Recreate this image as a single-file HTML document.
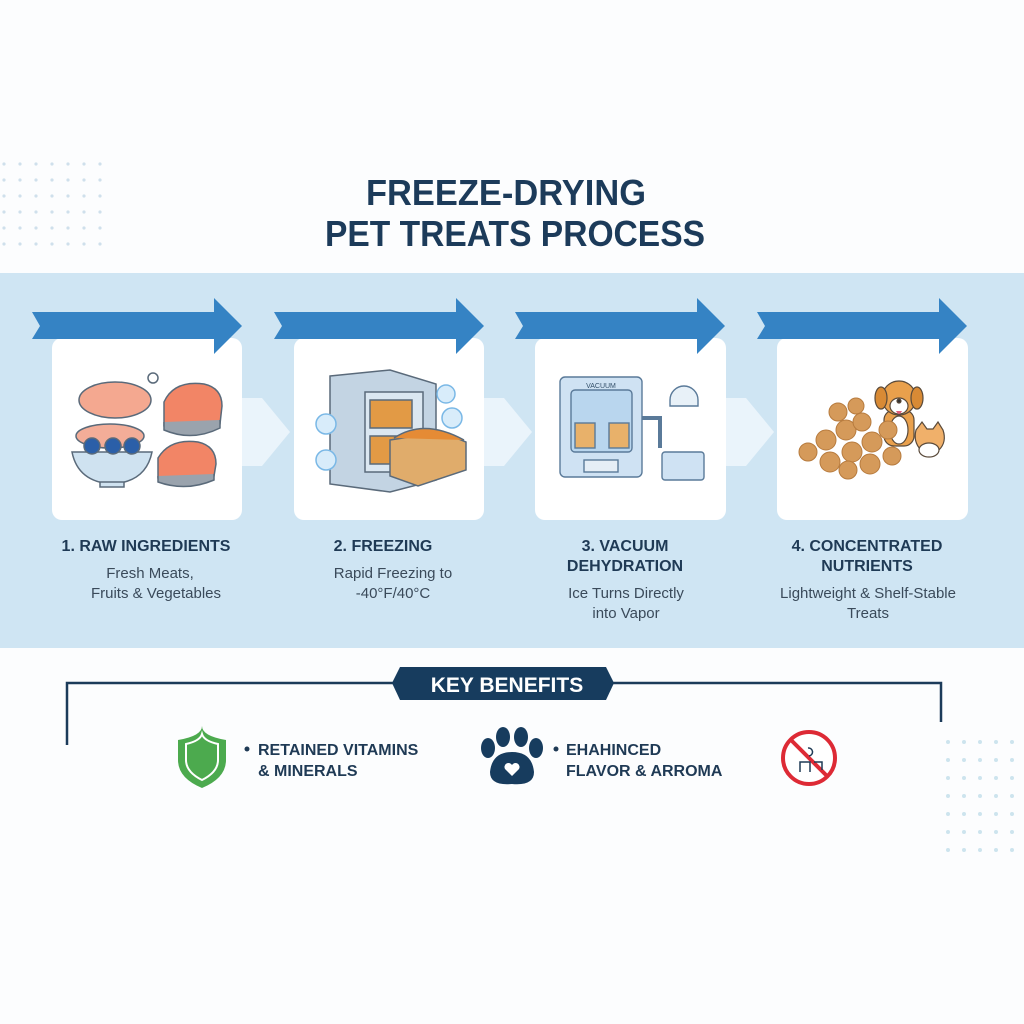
<!DOCTYPE html>
<html><head><meta charset="utf-8"><style>
html,body{margin:0;padding:0;background:#fdfdfd;}
svg{display:block}
text{font-family:"Liberation Sans","DejaVu Sans",sans-serif}
</style></head><body>
<svg width="1024" height="1024" viewBox="0 0 1024 1024" xmlns="http://www.w3.org/2000/svg">
<rect width="1024" height="1024" fill="#fcfdfe"/>
<defs>
<pattern id="dots" width="16" height="16" patternUnits="userSpaceOnUse"><circle cx="4" cy="4" r="1.6" fill="#cfe0ec"/></pattern>
<pattern id="dots2" width="16" height="18" patternUnits="userSpaceOnUse"><circle cx="4" cy="4" r="2" fill="#cde4ee"/></pattern>
</defs>
<rect x="2" y="152" width="100" height="96" fill="url(#dots)"/>
<rect x="936" y="740" width="88" height="124" fill="url(#dots2)"/>

<text x="506" y="205" text-anchor="middle" font-size="36" font-weight="bold" fill="#1c3b5a" textLength="280" lengthAdjust="spacingAndGlyphs">FREEZE-DRYING</text>
<text x="515" y="246" text-anchor="middle" font-size="36" font-weight="bold" fill="#1c3b5a" textLength="380" lengthAdjust="spacingAndGlyphs">PET TREATS PROCESS</text>

<rect x="0" y="273" width="1024" height="375" fill="#cfe5f3"/>

<g fill="#eaf4fb">
<polygon points="242,398 262,398 290,432 262,466 242,466"/>
<polygon points="484,398 504,398 532,432 504,466 484,466"/>
<polygon points="726,398 746,398 774,432 746,466 726,466"/>
</g>
<g fill="#ffffff">
<rect x="52" y="338" width="190" height="182" rx="10"/>
<rect x="294" y="338" width="190" height="182" rx="10"/>
<rect x="535" y="338" width="191" height="182" rx="10"/>
<rect x="777" y="338" width="191" height="182" rx="10"/>
</g>
<g fill="#3583c4">
<polygon points="32,312 214,312 214,298 242,326 214,354 214,339 32,339 40,326"/>
<polygon points="274,312 456,312 456,298 484,326 456,354 456,339 274,339 282,326"/>
<polygon points="515,312 697,312 697,298 725,326 697,354 697,339 515,339 523,326"/>
<polygon points="757,312 939,312 939,298 967,326 939,354 939,339 757,339 765,326"/>
</g>

<g stroke="#5a6a7a" stroke-width="1.5">
<ellipse cx="115" cy="400" rx="36" ry="18" fill="#f4a890"/>
<circle cx="153" cy="378" r="5" fill="#fff"/>
<path d="M164,402 q10,-22 40,-18 q18,4 18,22 l-2,18 q-30,10 -56,2z" fill="#f28566"/>
<path d="M164,422 l0,8 q28,12 56,-2 l0,-8" fill="#9aa3ad"/>
<ellipse cx="110" cy="436" rx="34" ry="12" fill="#f3ad98"/>
<path d="M72,452 h80 q-6,30 -40,32 q-34,-2 -40,-32z" fill="#cfe2f0"/>
<rect x="100" y="482" width="24" height="5" fill="#cfe2f0"/>
<circle cx="92" cy="446" r="8" fill="#2b5fa8"/>
<circle cx="113" cy="446" r="8" fill="#2b5fa8"/>
<circle cx="132" cy="446" r="8" fill="#2b5fa8"/>
<path d="M158,458 q12,-20 40,-16 q18,4 18,22 l-2,12 q-30,10 -56,2z" fill="#f28566"/>
<path d="M158,476 l0,6 q28,10 56,-2 l0,-6" fill="#9aa3ad"/>
</g>
<g stroke="#5a6a7a" stroke-width="1.5">
<path d="M330,376 l60,-6 l46,14 v96 l-46,12 l-60,-8z" fill="#c3d4e3"/>
<rect x="365" y="392" width="58" height="80" fill="#dbe7f1"/>
<rect x="370" y="400" width="42" height="28" fill="#e29a45"/>
<rect x="370" y="436" width="42" height="28" fill="#e29a45"/>
<path d="M390,440 l52,-8 l24,10 v28 l-48,16 l-28,-10z" fill="#e0ac6b"/>
<path d="M394,438 q30,-20 70,2" fill="#e58b35"/>
</g>
<g fill="#d8ecfa" stroke="#7ab8e6" stroke-width="1.5">
<circle cx="326" cy="424" r="10"/><circle cx="326" cy="460" r="10"/><circle cx="446" cy="394" r="9"/><circle cx="452" cy="418" r="10"/>
</g>
<g stroke="#5a7a99" stroke-width="1.4">
<rect x="560" y="377" width="82" height="100" rx="5" fill="#cfe2f3"/>
<rect x="571" y="390" width="61" height="62" rx="4" fill="#b9d6ee"/>
<rect x="575" y="423" width="20" height="25" fill="#e8b16a"/>
<rect x="609" y="423" width="20" height="25" fill="#e8b16a"/>
<rect x="584" y="460" width="34" height="12" fill="#e5eef6"/>
<path d="M642,418 h18 v30" fill="none" stroke-width="4"/>
<rect x="662" y="452" width="42" height="28" rx="3" fill="#cfe2f3"/>
<path d="M670,400 a14,14 0 0 1 28,0 v6 h-28z" fill="#e8f1f8"/>
</g>
<text x="601" y="388" text-anchor="middle" font-size="7" fill="#34506a">VACUUM</text>
<!-- dog & cat behind treats -->
<g stroke="#5a4a3a" stroke-width="1.2">
<rect x="884" y="410" width="30" height="36" rx="10" fill="#e9a04c"/>
<ellipse cx="899" cy="430" rx="9" ry="14" fill="#fff"/>
<circle cx="899" cy="398" r="17" fill="#e9a04c"/>
<ellipse cx="881" cy="398" rx="6" ry="11" fill="#d88a35"/>
<ellipse cx="917" cy="398" rx="6" ry="11" fill="#d88a35"/>
<ellipse cx="899" cy="406" rx="9" ry="8" fill="#fff"/>
<circle cx="899" cy="401" r="2" fill="#333"/>
<path d="M916,430 l6,-8 l5,7 h6 l5,-7 l5,8 q4,12 -4,20 h-18 q-8,-8 -5,-20z" fill="#f0b06a"/>
<ellipse cx="929" cy="450" rx="10" ry="7" fill="#fff"/>
</g>
<path d="M896,411 q3,6 6,0z" fill="#e0607a"/>
<g fill="#d59a5a" stroke="#b77b3e" stroke-width="1">
<circle cx="808" cy="452" r="9"/><circle cx="826" cy="440" r="10"/><circle cx="846" cy="430" r="10"/><circle cx="862" cy="422" r="9"/>
<circle cx="830" cy="462" r="10"/><circle cx="852" cy="452" r="10"/><circle cx="872" cy="442" r="10"/><circle cx="888" cy="430" r="9"/>
<circle cx="848" cy="470" r="9"/><circle cx="870" cy="464" r="10"/><circle cx="892" cy="456" r="9"/><circle cx="838" cy="412" r="9"/><circle cx="856" cy="406" r="8"/>
</g>

<g font-weight="bold" font-size="16" fill="#1f3a55" text-anchor="middle">
<text x="146" y="551">1. RAW INGREDIENTS</text>
<text x="383" y="551">2. FREEZING</text>
<text x="625" y="551">3. VACUUM</text>
<text x="625" y="571">DEHYDRATION</text>
<text x="867" y="551">4. CONCENTRATED</text>
<text x="867" y="571">NUTRIENTS</text>
</g>
<g font-size="15" fill="#3a4a5a" text-anchor="middle">
<text x="150" y="578">Fresh Meats,</text>
<text x="156" y="598">Fruits &amp; Vegetables</text>
<text x="393" y="578">Rapid Freezing to</text>
<text x="393" y="598">-40°F/40°C</text>
<text x="626" y="598">Ice Turns Directly</text>
<text x="626" y="618">into Vapor</text>
<text x="868" y="598">Lightweight &amp; Shelf-Stable</text>
<text x="868" y="618">Treats</text>
</g>

<path d="M67,745 V683 H941 V722" fill="none" stroke="#1c3b5a" stroke-width="2.5"/>
<polygon points="400,667 606,667 614,683 606,700 400,700 392,683" fill="#173c5e"/>
<text x="507" y="692" text-anchor="middle" font-size="21" font-weight="bold" fill="#fff">KEY BENEFITS</text>

<path d="M178,740 q24,-4 24,-14 q0,10 24,14 v20 q0,18 -24,28 q-24,-10 -24,-28z" fill="#4caa4e"/>
<path d="M186,744 q14,-3 16,-10 q2,7 16,10 v16 q0,12 -16,20 q-16,-8 -16,-20z" fill="none" stroke="#fff" stroke-width="2"/>
<g fill="#1f3a55" font-weight="bold" font-size="16">
<circle cx="247" cy="749" r="2.5"/>
<text x="258" y="755">RETAINED VITAMINS</text>
<text x="258" y="776">&amp; MINERALS</text>
<circle cx="556" cy="749" r="2.5"/>
<text x="566" y="755">EHAHINCED</text>
<text x="566" y="776">FLAVOR &amp; ARROMA</text>
</g>
<g fill="#173c5e">
<ellipse cx="488" cy="748" rx="7" ry="10"/><ellipse cx="503" cy="737" rx="7" ry="10"/>
<ellipse cx="521" cy="737" rx="7" ry="10"/><ellipse cx="536" cy="748" rx="7" ry="10"/>
<path d="M512,752 q20,0 22,20 q0,14 -22,12 q-22,2 -22,-12 q2,-20 22,-20z"/>
</g>
<path d="M512,776 l-7,-7 a4,4 0 0 1 7,-4 a4,4 0 0 1 7,4z" fill="#fff"/>
<circle cx="809" cy="758" r="26" fill="#fff" stroke="#dd2a35" stroke-width="4"/>
<line x1="791" y1="740" x2="827" y2="776" stroke="#dd2a35" stroke-width="4"/>
<path d="M800,772 v-10 h10 v10 M814,762 h8 v8 M808,748 a4,4 0 1 1 1,8" fill="none" stroke="#1f3a55" stroke-width="1.5"/>
</svg>
</body></html>
